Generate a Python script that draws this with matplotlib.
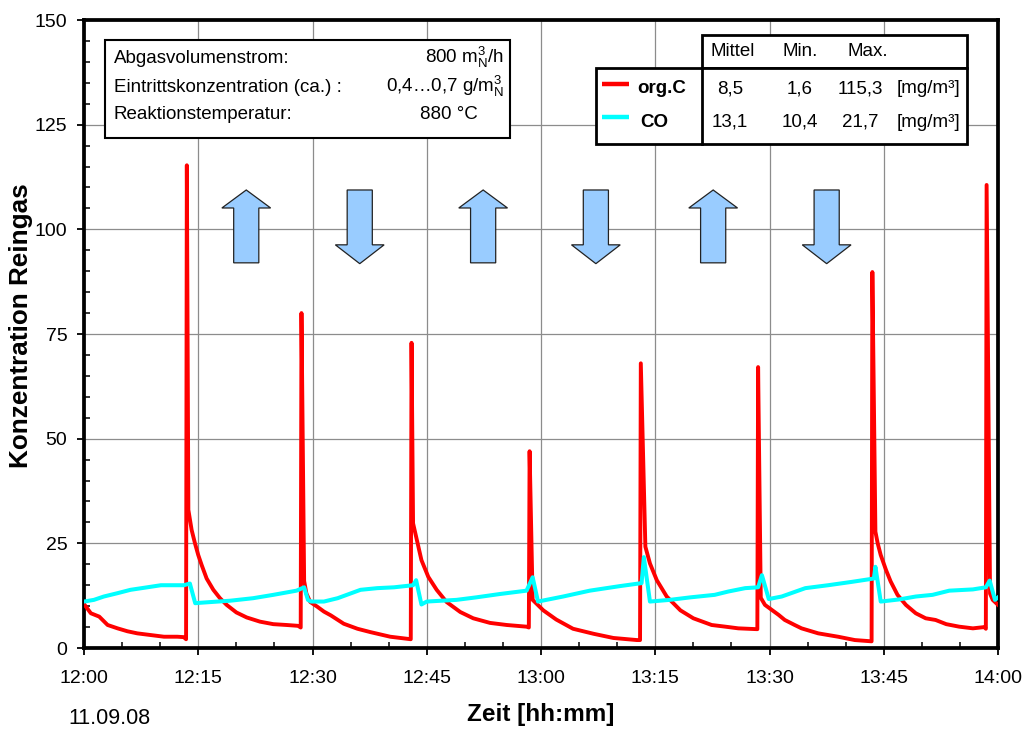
import matplotlib
matplotlib.use("Agg")
import matplotlib.pyplot as plt
from matplotlib.patches import Rectangle, Polygon
from matplotlib.ticker import MultipleLocator, FixedLocator

plt.rcParams['font.family'] = ['Liberation Sans', 'DejaVu Sans']
plt.rcParams['mathtext.fontset'] = 'custom'
plt.rcParams['mathtext.rm'] = 'Liberation Sans'
plt.rcParams['mathtext.it'] = 'Liberation Sans:italic'
plt.rcParams['mathtext.bf'] = 'Liberation Sans:bold'

# Zeit in Minuten ab 12:00, Werte in mg/m3
t_orgc = [0, 0.9, 2.0, 3.1, 4.4, 5.7, 7.0, 8.75, 10.5, 12.25, 13.1, 13.4,
          13.5, 13.7, 14.13, 14.57, 15.0, 15.45, 16.1, 16.98, 17.85, 18.73, 20.0, 21.36,
          23.1, 24.85, 26.6, 28.1, 28.45,
          28.55, 28.9, 29.2, 29.7, 30.6, 31.5, 32.4, 34.1, 35.9, 37.6, 40.2, 42.9,
          43.0, 43.2, 43.7, 44.3, 45.2, 46.3, 47.6, 49.4, 51.1, 53.3, 55.5, 58.1, 58.4,
          58.5, 58.9, 60.3, 62.0, 64.2, 66.9, 69.5, 72.6, 73.0,
          73.1, 73.7, 74.3, 75.2, 76.5, 78.3, 80.0, 82.4, 84.2, 85.9, 88.4,
          88.5, 88.85, 89.4, 90.3, 91.2, 92.0, 93.3, 94.2, 96.4, 99.0, 101.2, 103.4,
          103.5, 103.9, 104.2, 104.6, 105.3, 105.9, 106.8, 107.9, 109.2, 110.5, 111.8,
          113.2, 114.9, 116.7, 118.2, 118.4,
          118.5, 118.95, 119.3, 120]
orgc = [10.5, 8.3, 7.5, 5.5, 4.7, 4.0, 3.5, 3.1, 2.7, 2.7, 2.6, 2.1,
        115.3, 33.0, 28.2, 25.0, 22.2, 19.8, 16.6, 13.9, 11.9, 10.3, 8.5, 7.3,
        6.3, 5.7, 5.5, 5.3, 4.9,
        80.0, 16.0, 13.0, 11.0, 9.9, 8.7, 7.8, 5.8, 4.6, 3.8, 2.7, 2.1,
        72.9, 29.8, 25.8, 21.0, 17.0, 13.9, 11.0, 8.6, 7.1, 6.0, 5.5, 5.1, 4.9,
        47.0, 11.5, 9.0, 6.8, 4.6, 3.4, 2.4, 1.9, 1.9,
        68.0, 24.2, 20.2, 16.2, 12.3, 9.0, 7.1, 5.5, 5.1, 4.7, 4.5,
        67.1, 12.0, 10.3, 9.1, 7.9, 6.7, 5.5, 4.7, 3.5, 2.7, 1.9, 1.6,
        89.8, 27.8, 25.0, 22.2, 18.6, 15.9, 12.7, 10.3, 8.3, 7.1, 6.7,
        5.7, 5.1, 4.7, 5.0, 4.6,
        110.6, 13.0, 11.5, 10.3]

t_co = [0, 1.3, 2.6, 4.4, 6.1, 8.3, 10.1, 13.1, 13.9, 14.6, 15.2,
        19.2, 22.2, 24.85, 27.9, 28.9, 29.4, 29.8, 31.5, 33.3, 36.3, 38.5, 40.7,
        43.2, 43.6, 44.3, 45.0, 48.9, 51.5, 54.6, 58.1, 58.9, 59.6,
        62.9, 66.4, 70.4, 73.2, 73.5, 74.3, 76.9, 79.6, 82.8, 84.6,
        86.8, 88.5, 89.0, 89.9, 91.6, 94.7, 97.7, 100.8, 103.7, 103.9,
        104.6, 107.0, 109.2, 111.4, 113.6, 116.7, 118.4, 118.9, 119.6, 120]
co = [11.1, 11.5, 12.3, 13.1, 13.9, 14.5, 15.0, 15.0, 15.4, 10.7, 10.8,
      11.3, 11.9, 12.7, 13.7, 14.5, 11.5, 11.1, 11.1, 11.9, 13.9, 14.3, 14.5,
      15.0, 16.2, 10.4, 11.1, 11.5, 12.1, 12.9, 13.7, 16.9, 11.1,
      12.3, 13.7, 14.8, 15.5, 21.7, 11.1, 11.5, 12.1, 12.7, 13.5,
      14.3, 14.5, 17.4, 11.7, 12.3, 14.3, 15.0, 15.8, 16.6, 19.4,
      11.1, 11.6, 12.3, 12.7, 13.7, 14.0, 14.5, 16.1, 11.5, 12.1]

tick_min = [0, 15, 30, 45, 60, 75, 90, 105, 120]
tick_labels = ['12:00', '12:15', '12:30', '12:45', '13:00', '13:15', '13:30', '13:45', '14:00']

# Pfeile (Umschaltung Stroemungsrichtung)
arrow_up_x = [21.3, 52.4, 82.6]
arrow_down_x = [36.2, 67.2, 97.5]

info_labels = ['Abgasvolumenstrom:', 'Eintrittskonzentration (ca.) :', 'Reaktionstemperatur:']
info_values = [r'800 m$^{3}_{\mathrm{N}}$/h', r'0,4…0,7 g/m$^{3}_{\mathrm{N}}$', '880 °C']

stat_names = ['org.C', 'CO']
stat_colors = ['#ff0000', '#00ffff']
stat_mittel = ['8,5', '13,1']
stat_min = ['1,6', '10,4']
stat_max = ['115,3', '21,7']

fig = plt.figure(figsize=(10.27, 7.3), dpi=100)
ax = fig.add_axes([0.0818, 0.1123, 0.8900, 0.8603])

ax.plot(t_orgc, orgc, color='#ff0000', lw=2.8, zorder=4, solid_joinstyle='round')
ax.plot(t_co, co, color='#00ffff', lw=2.9, zorder=5, solid_joinstyle='round')

ax.set_xlim(0, 120)
ax.set_ylim(0, 150)
ax.xaxis.set_major_locator(FixedLocator(tick_min))
ax.set_xticklabels(tick_labels)
ax.xaxis.set_minor_locator(MultipleLocator(5))
ax.yaxis.set_major_locator(MultipleLocator(25))
ax.yaxis.set_minor_locator(MultipleLocator(5))
ax.tick_params(which='major', direction='out', length=5, width=1.3, labelsize=14, pad=11)
ax.tick_params(axis='y', which='major', pad=7)
ax.tick_params(which='minor', direction='in', length=4.5, width=1.1)
ax.grid(True, which='major', color='#8c8c8c', lw=0.9, zorder=0)
ax.set_axisbelow(True)
for sp in ax.spines.values():
    sp.set_linewidth(2.7)

ax.set_xlabel('Zeit [hh:mm]', fontsize=17.5, fontweight='bold')
ax.xaxis.set_label_coords(0.5, -0.088)
ax.set_ylabel('Konzentration Reingas', fontsize=18.8, fontweight='bold')
ax.yaxis.set_label_coords(-0.056, 0.514)
fig.text(0.107, 0.0164, '11.09.08', fontsize=15.5, ha='center', va='center')

# Pfeile
head_w, shaft_w, head_l = 6.4, 3.3, 4.3
y_lo, y_hi = 92.0, 109.4
for x in arrow_up_x:
    pts = [(x - shaft_w / 2, y_lo), (x + shaft_w / 2, y_lo), (x + shaft_w / 2, y_hi - head_l),
           (x + head_w / 2, y_hi - head_l), (x, y_hi), (x - head_w / 2, y_hi - head_l),
           (x - shaft_w / 2, y_hi - head_l)]
    ax.add_patch(Polygon(pts, closed=True, fc='#99ccff', ec='#222222', lw=0.9, zorder=3))
for x in arrow_down_x:
    pts = [(x - shaft_w / 2, y_hi), (x + shaft_w / 2, y_hi), (x + shaft_w / 2, y_lo + head_l),
           (x + head_w / 2, y_lo + head_l), (x, y_lo - 0.2), (x - head_w / 2, y_lo + head_l),
           (x - shaft_w / 2, y_lo + head_l)]
    ax.add_patch(Polygon(pts, closed=True, fc='#99ccff', ec='#222222', lw=0.9, zorder=3))

# Infobox links
tr = ax.transAxes
ax.add_patch(Rectangle((0.023, 0.8121), 0.4431, 0.1561, transform=tr, fc='white',
                       ec='black', lw=1.5, zorder=6))
info_y = [0.9311, 0.8858, 0.8424]
for lab, val, yy in zip(info_labels, info_values, info_y):
    ax.text(0.0328, yy, lab, transform=tr, fontsize=13.5, va='baseline', zorder=7)
    if val.startswith('880'):
        ax.text(0.3676, yy, val, transform=tr, fontsize=13.5, va='baseline', zorder=7)
    else:
        ax.text(0.4595, yy, val, transform=tr, fontsize=13.5, va='baseline', ha='right', zorder=7)

# Statistik-Tabelle rechts
ax.add_patch(Rectangle((0.6765, 0.9241), 0.2892, 0.0520, transform=tr, fc='white',
                       ec='black', lw=2.0, zorder=6))
ax.add_patch(Rectangle((0.5602, 0.8021), 0.4055, 0.1220, transform=tr, fc='white',
                       ec='black', lw=2.0, zorder=6))
ax.plot([0.6765, 0.6765], [0.8021, 0.9241], transform=tr, color='black', lw=2.0, zorder=7)
for txt, xx in zip(['Mittel', 'Min.', 'Max.'], [0.7101, 0.7839, 0.8572]):
    ax.text(xx, 0.9432, txt, transform=tr, fontsize=13.5, ha='center', va='baseline', zorder=7)
row_y = [0.8833, 0.8301]
line_y = [0.898, 0.846]
label_x = [0.605, 0.6083]
for i in range(2):
    ax.plot([0.567, 0.5963], [line_y[i], line_y[i]], transform=tr, color=stat_colors[i],
            lw=3.2, zorder=7, solid_capstyle='butt')
    ax.text(label_x[i], row_y[i], stat_names[i], transform=tr, fontsize=13.5,
            fontweight='bold', va='baseline', zorder=7)
    ax.text(0.7068, row_y[i], stat_mittel[i], transform=tr, fontsize=13.5, ha='center',
            va='baseline', zorder=7)
    ax.text(0.7830, row_y[i], stat_min[i], transform=tr, fontsize=13.5, ha='center',
            va='baseline', zorder=7)
    ax.text(0.8490, row_y[i], stat_max[i], transform=tr, fontsize=13.5, ha='center',
            va='baseline', zorder=7)
    ax.text(0.9584, row_y[i], '[mg/m³]', transform=tr, fontsize=13.5, ha='right',
            va='baseline', zorder=7)

fig.savefig('out.png', dpi=100)
